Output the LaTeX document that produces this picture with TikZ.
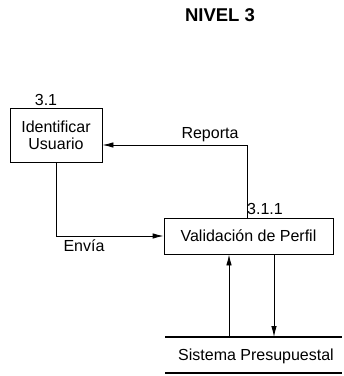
\documentclass[tikz,border=0pt]{standalone}
\usepackage{fontspec}
\setmainfont{Liberation Sans}
\usetikzlibrary{arrows.meta}
\begin{document}
\begin{tikzpicture}[x=1pt,y=-1pt,
  txt/.style={font=\fontsize{16}{17}\selectfont, inner sep=0pt},
  proc/.style={draw, line width=0.9pt, inner sep=0pt, align=center, font=\fontsize{16}{17}\selectfont},
  arr/.style={line width=0.9pt, -{Latex[length=11pt,width=5.5pt]}},
  storeline/.style={line width=1.2pt}]
\useasboundingbox (0,0) rectangle (344,376);
\node[font=\bfseries\fontsize{18.5}{20}\selectfont, inner sep=0pt] (title) at (220,15) {NIVEL 3};
\node[proc, minimum width=92pt, minimum height=54pt] (a) at (56,135) {Identificar\\Usuario};
\node[txt] (l31) at (46,100) {3.1};
\node[proc, minimum width=169pt, minimum height=36pt] (b) at (248.5,236) {Validación de Perfil};
\node[txt, anchor=west] (l311) at (247,209) {3.1.1};
\coordinate (st1) at (165,337);
\coordinate (st2) at (342,337);
\coordinate (sb1) at (165,373);
\coordinate (sb2) at (342,373);
\draw[storeline] (st1) -- (st2);
\draw[storeline] (sb1) -- (sb2);
\node[txt] (store) at (256,356) {Sistema Presupuestal};
\draw[arr] (b.north -| 247,0) |- (a.east |- 0,145);
\draw[arr] (a.south) |- (b.west);
\draw[arr] (st1 -| 229,0) -- (b.south -| 229,0);
\draw[arr] (b.south -| 274,0) -- (st1 -| 274,0);
\node[txt] (rep) at (210,135) {Reporta};
\node[txt] (env) at (84,246) {Envía};
\end{tikzpicture}
\end{document}
